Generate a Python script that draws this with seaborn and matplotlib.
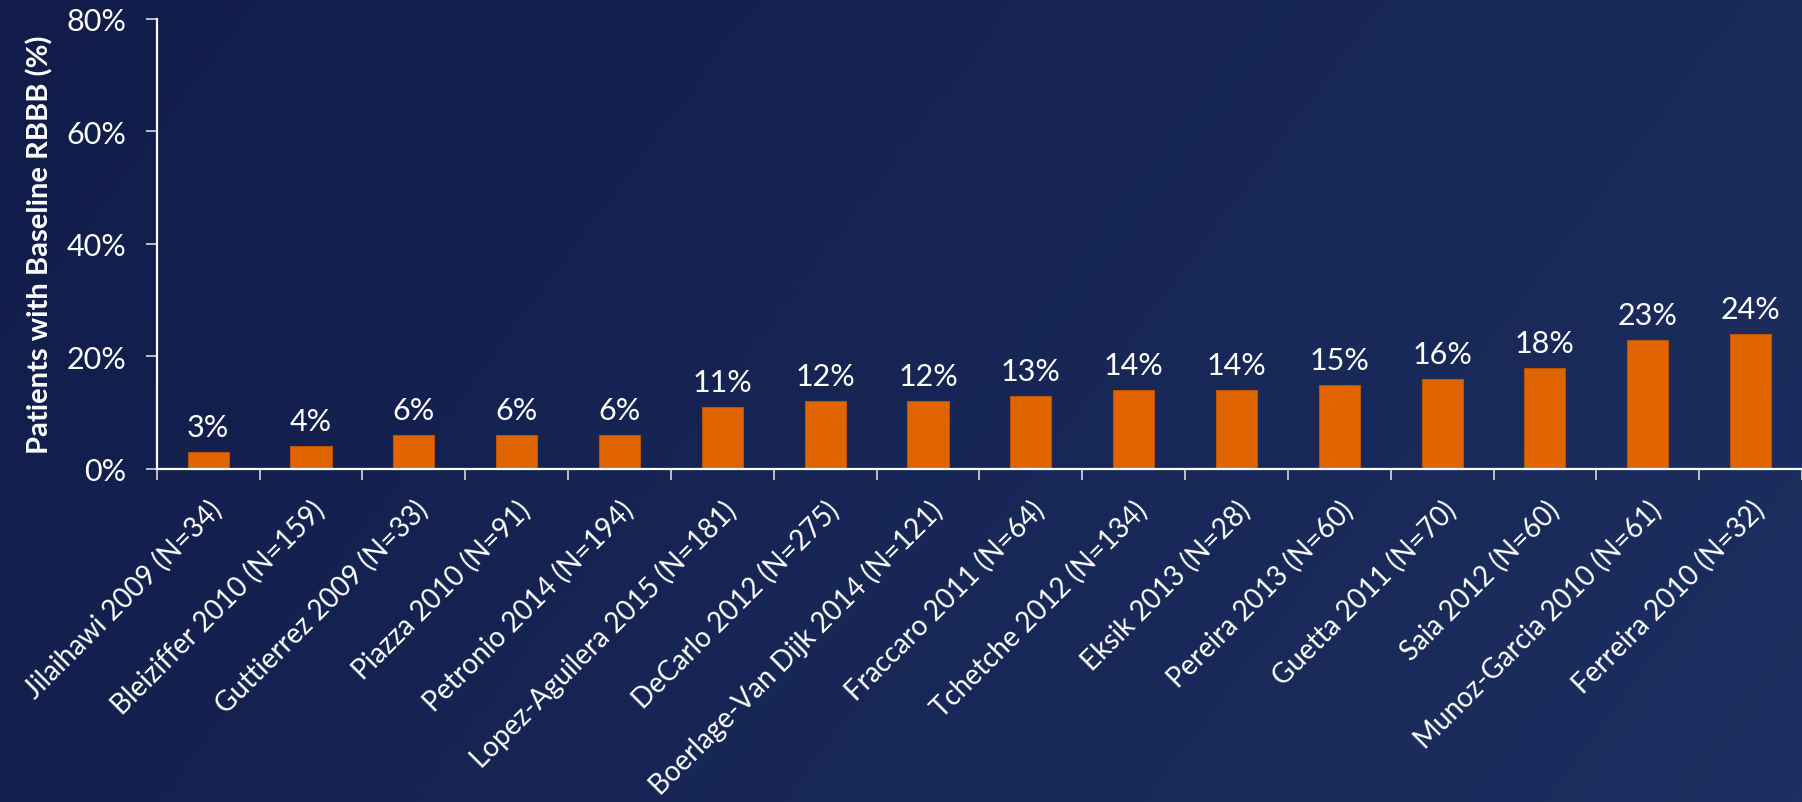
import numpy as np
import matplotlib
matplotlib.use("Agg")
import matplotlib.pyplot as plt
from matplotlib.colors import LinearSegmentedColormap
from matplotlib.ticker import FixedLocator, FuncFormatter
import seaborn as sns

# Studies and share of patients with baseline RBBB (%)
studies = [
    "Jilaihawi 2009 (N=34)",
    "Bleiziffer 2010 (N=159)",
    "Guttierrez 2009 (N=33)",
    "Piazza 2010 (N=91)",
    "Petronio 2014 (N=194)",
    "Lopez-Aguilera 2015 (N=181)",
    "DeCarlo 2012 (N=275)",
    "Boerlage-Van Dijk 2014 (N=121)",
    "Fraccaro 2011 (N=64)",
    "Tchetche 2012 (N=134)",
    "Eksik 2013 (N=28)",
    "Pereira 2013 (N=60)",
    "Guetta 2011 (N=70)",
    "Saia 2012 (N=60)",
    "Munoz-Garcia 2010 (N=61)",
    "Ferreira 2010 (N=32)",
]
rbbb_pct = [3, 4, 6, 6, 6, 11, 12, 12, 13, 14, 14, 15, 16, 18, 23, 24]
y_ticks = [0, 20, 40, 60, 80]

BAR = "#E06500"
FG = "white"

sns.set_theme(style="white")
plt.rcParams["font.family"] = ["Lato", "DejaVu Sans"]

fig = plt.figure(figsize=(18.02, 8.03), dpi=100)

# navy gradient backdrop
bg = fig.add_axes([0, 0, 1, 1], zorder=-10)
gx, gy = np.meshgrid(np.linspace(0, 1, 400), np.linspace(0, 1, 200))
grad = 0.75 * gx + 0.25 * gy
cmap = LinearSegmentedColormap.from_list("navy", ["#111c4a", "#1c2f60"])
bg.imshow(grad, cmap=cmap, aspect="auto", extent=[0, 1, 0, 1], origin="upper")
bg.set_axis_off()

ax = fig.add_axes([0.087, 0.4147, 0.913, 0.5604])
ax.set_facecolor("none")

sns.barplot(x=studies, y=rbbb_pct, color=BAR, width=0.4, saturation=1,
            edgecolor="#B85408", linewidth=0.8, ax=ax)

ax.bar_label(ax.containers[0], labels=[f"{v}%" for v in rbbb_pct],
             padding=8, color=FG, fontsize=22)

ax.set_xlim(-0.5, len(studies) - 0.5)
ax.set_ylim(0, 80)
ax.yaxis.set_major_locator(FixedLocator(y_ticks))
ax.yaxis.set_major_formatter(FuncFormatter(lambda v, _: f"{v:.0f}%"))

# category separators as minor ticks on the x axis
ax.xaxis.set_minor_locator(FixedLocator(np.arange(-0.5, len(studies), 1.0)))
ax.tick_params(axis="x", which="minor", bottom=True, length=8, width=1.2,
               color="#d8d8d8", direction="out")
ax.tick_params(axis="x", which="major", bottom=True, length=0, pad=19)
ax.tick_params(axis="y", left=True, length=8, width=1.2, color="#d8d8d8",
               direction="out", labelsize=22, labelcolor=FG, pad=14)

for lab in ax.get_xticklabels():
    lab.set_rotation(45)
    lab.set_ha("right")
    lab.set_va("top")
    lab.set_rotation_mode("anchor")
    lab.set_fontsize(20)
    lab.set_color(FG)

for side in ("top", "right"):
    ax.spines[side].set_visible(False)
for side in ("left", "bottom"):
    ax.spines[side].set_color(FG)
    ax.spines[side].set_linewidth(1.6)

ax.set_xlabel("")
ax.set_ylabel("Patients with Baseline RBBB (%)", color=FG, fontsize=21,
              fontweight="bold")
ax.yaxis.set_label_coords(-0.063, 0.5)

fig.savefig("out.png", dpi=100)
